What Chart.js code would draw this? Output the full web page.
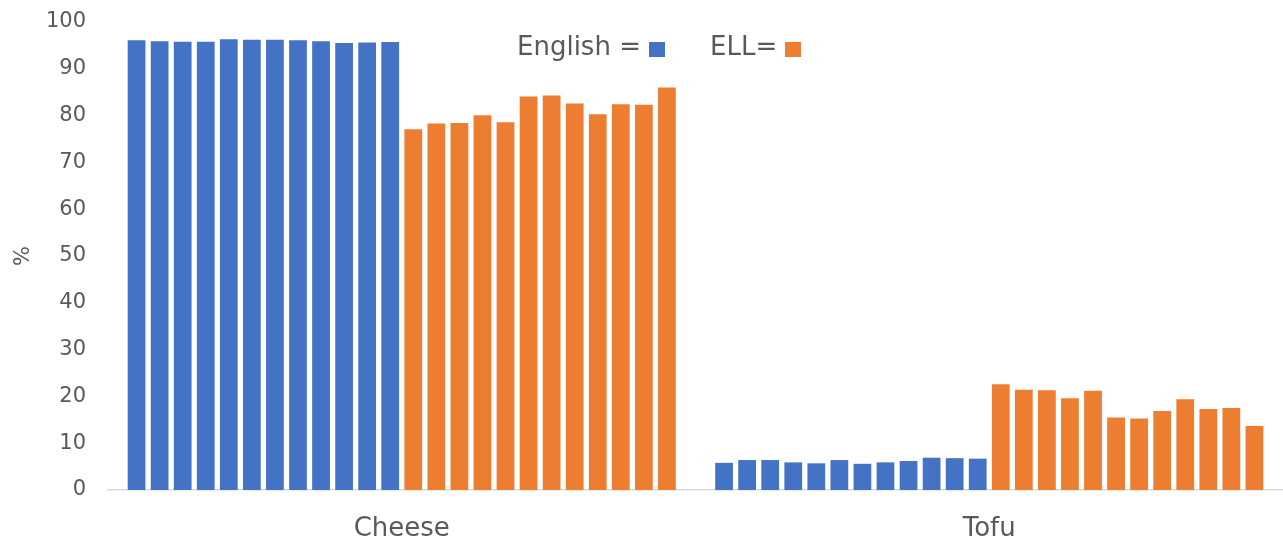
<!DOCTYPE html>
<html>
<head>
<meta charset="utf-8">
<script src="https://cdn.jsdelivr.net/npm/chart.js@4.4.1/dist/chart.umd.min.js"></script>
<style>
  html, body { margin: 0; padding: 0; background: #ffffff; }
  #wrap { position: relative; width: 1283px; height: 544px; }
</style>
</head>
<body>
<div id="wrap"><canvas id="c" width="1283" height="544"></canvas></div>
<script>
const categories = ['Cheese', 'Tofu'];
const englishCheese = [96.1, 95.9, 95.8, 95.8, 96.3, 96.2, 96.2, 96.1, 95.9, 95.5, 95.6, 95.7];
const ellCheese     = [77.1, 78.3, 78.4, 80.1, 78.6, 84.1, 84.3, 82.6, 80.3, 82.4, 82.3, 86.0];
const englishTofu   = [5.8, 6.4, 6.4, 5.9, 5.7, 6.4, 5.6, 5.9, 6.2, 6.9, 6.8, 6.7];
const ellTofu       = [22.6, 21.4, 21.3, 19.6, 21.2, 15.5, 15.3, 16.9, 19.4, 17.3, 17.5, 13.7];
const yTicks = [0, 10, 20, 30, 40, 50, 60, 70, 80, 90, 100];
const legendLabels = ['English =', 'ELL='];

const BLUE = '#4472C4';
const ORANGE = '#ED7D31';
const TEXT = '#595959';
const FONT = 'DejaVu Sans';

const datasets = [];
englishCheese.forEach((v, i) => {
  datasets.push({ label: 'English ' + (i + 1), data: [v, englishTofu[i]], backgroundColor: BLUE });
});
ellCheese.forEach((v, i) => {
  datasets.push({ label: 'ELL ' + (i + 1), data: [v, ellTofu[i]], backgroundColor: ORANGE });
});

const legendPlugin = {
  id: 'customLegend',
  afterDraw(chart) {
    const ctx = chart.ctx;
    ctx.save();
    ctx.font = '26px "' + FONT + '"';
    ctx.fillStyle = TEXT;
    ctx.textBaseline = 'alphabetic';
    ctx.textAlign = 'left';
    ctx.fillText(legendLabels[0], 517, 55);
    ctx.fillText(legendLabels[1], 710, 55);
    ctx.fillStyle = BLUE;
    ctx.fillRect(649, 42, 16, 15);
    ctx.fillStyle = ORANGE;
    ctx.fillRect(785, 42, 16, 15);
    ctx.restore();
  }
};

new Chart(document.getElementById('c'), {
  type: 'bar',
  data: { labels: categories, datasets },
  options: {
    responsive: false,
    animation: false,
    events: [],
    layout: { padding: { top: 22, left: 0, right: 0, bottom: 0 } },
    datasets: { bar: { categoryPercentage: 0.942, barPercentage: 0.77, borderWidth: 0 } },
    plugins: { legend: { display: false }, tooltip: { enabled: false } },
    scales: {
      x: {
        grid: { display: false, drawTicks: false },
        border: { display: true, color: '#D9D9D9', width: 1.5 },
        ticks: { color: TEXT, font: { family: FONT, size: 26 }, padding: 24 },
        afterFit(scale) { scale.height = 54; scale.paddingLeft = 0; scale.paddingRight = 0; }
      },
      y: {
        min: 0, max: 100,
        afterBuildTicks(scale) { scale.ticks = yTicks.map(v => ({ value: v })); },
        grid: { display: false, drawTicks: false },
        border: { display: false },
        ticks: { color: TEXT, font: { family: FONT, size: 21 }, padding: 22 },
        title: { display: true, text: '%', color: TEXT, font: { family: FONT, size: 21 }, padding: { top: 11, bottom: 0 } },
        afterFit(scale) { scale.width = 108; scale.paddingTop = 0; scale.paddingBottom = 0; }
      }
    }
  },
  plugins: [legendPlugin]
});
</script>
</body>
</html>
